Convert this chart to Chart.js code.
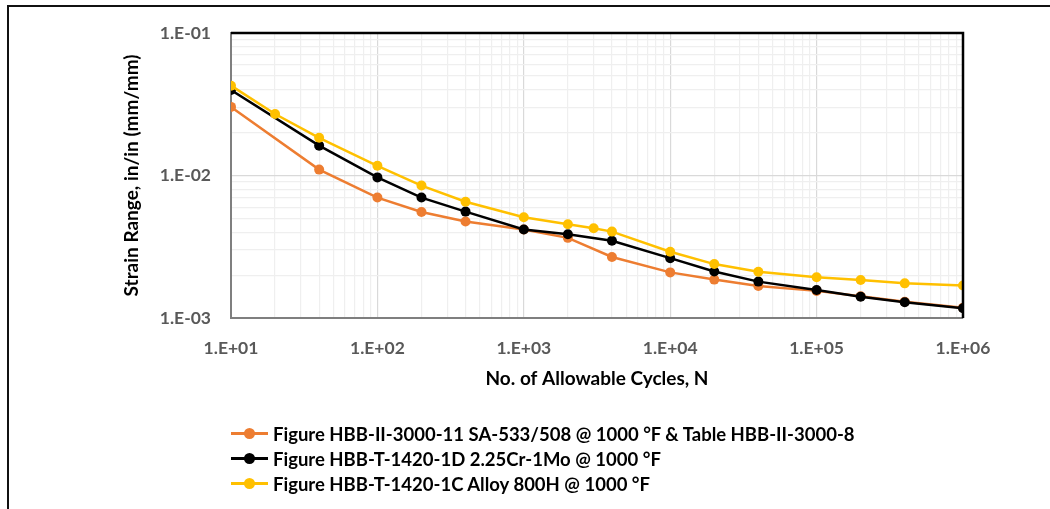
<!DOCTYPE html>
<html>
<head>
<meta charset="utf-8">
<script src="https://cdn.jsdelivr.net/npm/chart.js@4/dist/chart.umd.min.js"></script>
<style>
  html, body { margin: 0; padding: 0; background: #fff; }
  body { width: 1050px; height: 509px; position: relative; overflow: hidden; font-family: Lato, sans-serif; }
  #frame { position: absolute; left: 7px; top: 5px; width: 1200px; height: 700px; border-top: 2.5px solid #111; border-left: 2.5px solid #111; }
  #wrap { position: absolute; left: 0; top: 0; width: 1050px; height: 509px; }
  #legend { position: absolute; left: 231px; top: 421px; }
  .item { height: 25px; display: flex; align-items: center; font-weight: bold; font-size: 18.5px; color: #000; white-space: nowrap; }
  .swatch { position: relative; width: 37px; height: 3px; margin-right: 5px; }
  .swatch span { position: absolute; left: 13px; top: -4px; width: 11px; height: 11px; border-radius: 50%; }
</style>
</head>
<body>
<div id="frame"></div>
<div id="wrap"><canvas id="fatigueChart"></canvas></div>
<div id="legend"></div>
<script>
// Datos (curvas de fatiga a 1000 °F)
const seriesNames = [
  'Figure HBB-II-3000-11 SA-533/508 @ 1000 °F & Table HBB-II-3000-8',
  'Figure HBB-T-1420-1D 2.25Cr-1Mo @ 1000 °F',
  'Figure HBB-T-1420-1C Alloy 800H @ 1000 °F'
];
const seriesColors = ['#ED7D31', '#000000', '#FFC000'];

const cyclesOrange = [10, 40, 100, 200, 400, 1000, 2000, 4000, 1e4, 2e4, 4e4, 1e5, 2e5, 4e5, 1e6];
const strainOrange = [0.0303, 0.011, 0.0070, 0.00555, 0.00475, 0.00418, 0.00365, 0.00268, 0.00209, 0.00186, 0.00168, 0.00155, 0.00142, 0.0013, 0.00118];

const cyclesBlack = [10, 40, 100, 200, 400, 1000, 2000, 4000, 1e4, 2e4, 4e4, 1e5, 2e5, 4e5, 1e6];
const strainBlack = [0.0398, 0.0162, 0.0097, 0.0070, 0.00558, 0.00418, 0.00387, 0.00348, 0.00263, 0.00212, 0.0018, 0.00157, 0.00141, 0.00129, 0.00117];

const cyclesYellow = [10, 20, 40, 100, 200, 400, 1000, 2000, 3000, 4000, 1e4, 2e4, 4e4, 1e5, 2e5, 4e5, 1e6];
const strainYellow = [0.0427, 0.027, 0.0184, 0.0117, 0.0085, 0.00655, 0.0051, 0.00455, 0.00426, 0.00404, 0.00292, 0.00239, 0.00211, 0.00193, 0.00185, 0.00175, 0.00169];

const xTickValues = [10, 100, 1000, 1e4, 1e5, 1e6];
const xTickLabels = ['1.E+01', '1.E+02', '1.E+03', '1.E+04', '1.E+05', '1.E+06'];
const yTickValues = [0.001, 0.01, 0.1];
const yTickLabels = ['1.E-03', '1.E-02', '1.E-01'];

function toPoints(xs, ys) {
  return xs.map(function (x, i) { return { x: x, y: ys[i] }; });
}

// ticks 1..9 por decada para la rejilla menor
function logTicks(min, max) {
  const out = [];
  for (let e = Math.round(Math.log10(min)); e < Math.round(Math.log10(max)); e++) {
    for (let m = 1; m < 10; m++) out.push({ value: Number((m * Math.pow(10, e)).toPrecision(3)) });
  }
  out.push({ value: max });
  return out;
}

function isDecade(v) {
  const l = Math.log10(v);
  return Math.abs(l - Math.round(l)) < 1e-9;
}

function labelFor(values, labels) {
  return function (value) {
    for (let i = 0; i < values.length; i++) {
      if (Math.abs(values[i] - value) / values[i] < 1e-6) return labels[i];
    }
    return '';
  };
}

const tickFont = { family: 'Lato', weight: 'bold', size: 17.5 };
const titleFont = { family: 'Lato', weight: 'bold', size: 19 };

const frameBorder = {
  id: 'frameBorder',
  afterDraw(chart) {
    const a = chart.chartArea;
    const c = chart.ctx;
    c.save();
    c.strokeStyle = '#000';
    c.lineWidth = 2.5;
    c.beginPath();
    c.moveTo(a.left, a.top);
    c.lineTo(a.right, a.top);
    c.lineTo(a.right, a.bottom);
    c.stroke();
    c.restore();
  }
};

const datasets = [
  { label: seriesNames[0], data: toPoints(cyclesOrange, strainOrange), order: 3 },
  { label: seriesNames[1], data: toPoints(cyclesBlack, strainBlack), order: 2 },
  { label: seriesNames[2], data: toPoints(cyclesYellow, strainYellow), order: 1 }
].map(function (d, i) {
  return Object.assign(d, {
    borderColor: seriesColors[i],
    backgroundColor: seriesColors[i],
    pointBackgroundColor: seriesColors[i],
    pointBorderColor: seriesColors[i],
    borderWidth: 2.5,
    pointRadius: 5,
    pointBorderWidth: 0,
    tension: 0
  });
});

const ctx = document.getElementById('fatigueChart').getContext('2d');
const fatigueChart = new Chart(ctx, {
  type: 'line',
  data: { datasets: datasets },
  options: {
    responsive: true,
    maintainAspectRatio: false,
    animation: false,
    layout: { padding: { left: 0, top: 33, right: 87, bottom: 116 } },
    plugins: { legend: { display: false }, tooltip: { enabled: false } },
    scales: {
      x: {
        type: 'logarithmic',
        min: 10,
        max: 1e6,
        afterBuildTicks(scale) { scale.ticks = logTicks(10, 1e6); },
        afterFit(scale) { scale.height = 75; },
        ticks: {
          autoSkip: false, maxRotation: 0, padding: 20, color: '#595959', font: tickFont,
          callback: labelFor(xTickValues, xTickLabels)
        },
        grid: {
          drawTicks: false,
          color: function (c) { return isDecade(c.tick.value) ? '#d9d9d9' : '#efefef'; },
          lineWidth: 1.2
        },
        border: { color: '#7f7f7f', width: 2 },
        title: { display: true, text: 'No. of Allowable Cycles, N', color: '#000', font: titleFont, padding: { top: 0, bottom: 3 } }
      },
      y: {
        type: 'logarithmic',
        min: 0.001,
        max: 0.1,
        afterBuildTicks(scale) { scale.ticks = logTicks(0.001, 0.1); },
        afterFit(scale) { scale.width = 231; },
        ticks: {
          autoSkip: false, padding: 20, color: '#595959', font: tickFont,
          callback: labelFor(yTickValues, yTickLabels)
        },
        grid: {
          drawTicks: false,
          color: function (c) { return isDecade(c.tick.value) ? '#d9d9d9' : '#efefef'; },
          lineWidth: 1.2
        },
        border: { color: '#7f7f7f', width: 2 },
        title: { display: true, text: 'Strain Range, in/in (mm/mm)', color: '#000', font: titleFont, padding: { top: 120, bottom: 0 } }
      }
    }
  },
  plugins: [frameBorder]
});

// Leyenda HTML (una serie por linea, alineada a la izquierda)
const legendEl = document.getElementById('legend');
seriesNames.forEach(function (name, i) {
  const row = document.createElement('div');
  row.className = 'item';
  row.innerHTML = '<div class="swatch" style="background:' + seriesColors[i] + '"><span style="background:' + seriesColors[i] + '"></span></div>' + name;
  legendEl.appendChild(row);
});
</script>
</body>
</html>
